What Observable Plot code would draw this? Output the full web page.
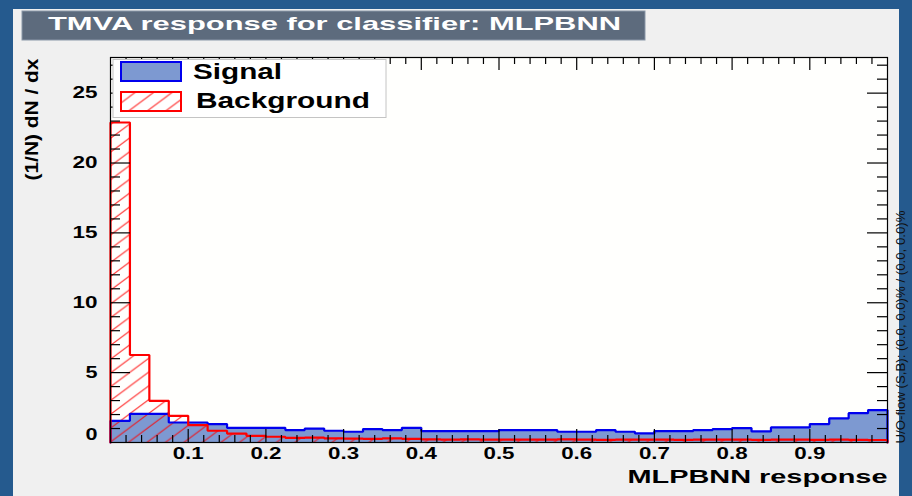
<!DOCTYPE html>
<html>
<head>
<meta charset="utf-8">
<script src="https://cdn.jsdelivr.net/npm/d3@7"></script>
<script src="https://cdn.jsdelivr.net/npm/@observablehq/plot@0.6"></script>
<style>
  html, body { margin: 0; padding: 0; }
  body { width: 912px; height: 496px; overflow: hidden; background: #255a8e; position: relative; }
  #canvas { position: absolute; left: 13px; top: 9px; width: 886px; height: 487px; background: #f0f0f0; }
  #chart { position: absolute; left: 0; top: 0; }
</style>
</head>
<body>
<div id="canvas"></div>
<div id="chart"></div>
<script>
// MLPBNN classifier response, normalised (1/N dN/dx), 40 bins over [0, 1]
const nBins = 40;
const signal = [
  1.55, 2.05, 2.05, 1.43, 1.43, 1.32, 1.05, 1.05, 1.05, 0.89,
  1.00, 0.84, 0.77, 0.96, 0.89, 1.05, 0.82, 0.82, 0.82, 0.82,
  0.89, 0.89, 0.89, 0.77, 0.77, 0.89, 0.77, 0.65, 0.82, 0.82,
  0.89, 0.96, 1.03, 0.79, 1.08, 1.08, 1.32, 1.72, 2.10, 2.32
];
const background = [
  22.9, 6.26, 2.98, 1.91, 1.24, 0.84, 0.64, 0.48, 0.41, 0.33,
  0.35, 0.30, 0.28, 0.26, 0.30, 0.26, 0.22, 0.20, 0.22, 0.20,
  0.20, 0.21, 0.20, 0.22, 0.20, 0.19, 0.21, 0.20, 0.20, 0.19,
  0.21, 0.20, 0.20, 0.19, 0.20, 0.21, 0.19, 0.20, 0.19, 0.18
];
const xTickLabels = [0.1, 0.2, 0.3, 0.4, 0.5, 0.6, 0.7, 0.8, 0.9];
const yTickLabels = [0, 5, 10, 15, 20, 25];
const titleText = "TMVA response for classifier: MLPBNN";
const xTitle = "MLPBNN response";
const yTitle = "(1/N) dN / dx";
const flowText = "U/O-flow (S,B): (0.0, 0.0)% / (0.0, 0.0)%";
const seriesNames = ["Signal", "Background"];

// step outlines: one point per bin low edge, closed at the upper edge
function stepPoints(values) {
  const pts = values.map((v, i) => ({x: i / nBins, y: v}));
  pts.push({x: 1, y: values[values.length - 1]});
  return pts;
}
function outline(values) {
  return [{x: 0, y: 0}, ...stepPoints(values), {x: 1, y: 0}];
}

const sigColor = "#0000ee", sigFill = "#7d99d1", bkgColor = "#ff0000";
const font = "'Liberation Sans', Arial, sans-serif";
const W = 912, H = 496;
const mL = 110, mR = 25, mT = 57, mB = 54;
const plotW = W - mL - mR, plotH = H - mT - mB;

// minor ticks every 0.02 in x and every 1 in y
const xMinor = d3.range(1, 50).map(i => i / 50).filter(v => Math.abs(v * 10 - Math.round(v * 10)) > 1e-6);
const xMajor = xTickLabels;
const yMinor = d3.range(1, 28).filter(v => v % 5 !== 0);
const yMajor = yTickLabels.filter(v => v > 0);

const tickStroke = {stroke: "black", strokeWidth: 1.2};
const bold = {fontFamily: font, fontWeight: "bold", fill: "black"};

const plot = Plot.plot({
  width: W, height: H,
  marginLeft: mL, marginRight: mR, marginTop: mT, marginBottom: mB,
  style: {background: "transparent", overflow: "visible"},
  x: {domain: [0, 1], axis: null},
  y: {domain: [0, 27.55], axis: null},
  marks: [
    Plot.frame({fill: "#fffffd", stroke: "none"}),
    Plot.areaY(stepPoints(signal), {x: "x", y: "y", curve: "step-after", fill: sigFill}),
    Plot.areaY(stepPoints(background), {x: "x", y: "y", curve: "step-after", fill: "url(#bkg-hatch)"}),
    Plot.line(outline(signal), {x: "x", y: "y", curve: "step-after", stroke: sigColor, strokeWidth: 2.2, strokeLinejoin: "miter"}),
    Plot.line(outline(background), {x: "x", y: "y", curve: "step-after", stroke: bkgColor, strokeWidth: 2.2, strokeLinejoin: "miter"}),
    // ticks drawn inward on all four sides
    Plot.ruleX(xMinor, {x: d => d, insetTop: plotH - 7, ...tickStroke}),
    Plot.ruleX(xMajor, {x: d => d, insetTop: plotH - 13, ...tickStroke}),
    Plot.ruleX(xMinor, {x: d => d, insetBottom: plotH - 7, ...tickStroke}),
    Plot.ruleX(xMajor, {x: d => d, insetBottom: plotH - 13, ...tickStroke}),
    Plot.ruleY(yMinor, {y: d => d, insetRight: plotW - 10, ...tickStroke}),
    Plot.ruleY(yMajor, {y: d => d, insetRight: plotW - 20, ...tickStroke}),
    Plot.ruleY(yMinor, {y: d => d, insetLeft: plotW - 10, ...tickStroke}),
    Plot.ruleY(yMajor, {y: d => d, insetLeft: plotW - 20, ...tickStroke}),
    Plot.frame({stroke: "black", strokeWidth: 1.2}),
    // tick labels
    Plot.text(xTickLabels, {x: d => d, frameAnchor: "bottom", dy: 16, text: d => d.toFixed(1), fontSize: 16, ...bold}),
    Plot.text(yTickLabels.filter(v => v > 0), {y: d => d, frameAnchor: "left", dx: -13, textAnchor: "end", text: d => String(d), fontSize: 16, ...bold}),
    Plot.text(yTickLabels.filter(v => v === 0), {y: d => d, frameAnchor: "left", dx: -13, dy: -8, textAnchor: "end", text: d => String(d), fontSize: 16, ...bold}),
    // axis titles
    Plot.text([xTitle], {frameAnchor: "bottom-right", dy: 40, textAnchor: "end", fontSize: 18.5, ...bold}),
    Plot.text([yTitle], {frameAnchor: "top-left", dx: -86, dy: 1, rotate: -90, textAnchor: "end", fontSize: 18.5, ...bold}),
    Plot.text([flowText], {frameAnchor: "bottom-right", dx: 17, dy: 1, rotate: -90, textAnchor: "start", fontSize: 12, fontFamily: font, fill: "#111"})
  ]
});

const svg = d3.select(plot);

// hatch used for the background histogram (and its legend swatch)
const pw = 18.5, ph = 13.8;
svg.insert("defs", ":first-child")
  .append("pattern")
  .attr("id", "bkg-hatch")
  .attr("patternUnits", "userSpaceOnUse")
  .attr("width", pw).attr("height", ph)
  .append("path")
  .attr("d", `M0,${ph}L${pw},0M${-pw / 4},${ph / 4}L${pw / 4},${-ph / 4}M${3 * pw / 4},${5 * ph / 4}L${5 * pw / 4},${3 * ph / 4}`)
  .attr("stroke", bkgColor).attr("stroke-width", 1.1).attr("stroke-opacity", 0.8).attr("fill", "none");

// title box
const tb = svg.append("g").attr("text-anchor", "start");
tb.append("rect").attr("x", 22).attr("y", 11).attr("width", 623).attr("height", 29)
  .attr("fill", "#5d6b7d").attr("stroke", "#8a97a8").attr("stroke-width", 1);
tb.append("text").attr("x", 48).attr("y", 29.5).attr("text-anchor", "start").text(titleText)
  .attr("fill", "white").attr("font-family", font).attr("font-weight", "bold").attr("font-size", 19);

// legend
const lg = svg.append("g").attr("text-anchor", "start");
lg.append("rect").attr("x", 113).attr("y", 59.5).attr("width", 273).attr("height", 58)
  .attr("fill", "white").attr("stroke", "#c4c4c4").attr("stroke-width", 1);
const swatches = [
  {y: 62, fill: sigFill, stroke: sigColor, base: 78.5},
  {y: 92, fill: "url(#bkg-hatch)", stroke: bkgColor, base: 108}
];
swatches.forEach((s, i) => {
  if (i === 1) lg.append("rect").attr("x", 121).attr("y", s.y).attr("width", 60).attr("height", 19).attr("fill", "white");
  lg.append("rect").attr("x", 121).attr("y", s.y).attr("width", 60).attr("height", 19)
    .attr("fill", s.fill).attr("stroke", s.stroke).attr("stroke-width", 2);
  lg.append("text").attr("x", i === 0 ? 193 : 196).attr("y", s.base).attr("text-anchor", "start").text(seriesNames[i])
    .attr("fill", "black").attr("font-family", font).attr("font-weight", "bold").attr("font-size", 22);
});

// the text in this figure is set wide; fix each string to its drawn width
const widths = {
  [titleText]: 573, [xTitle]: 260, [yTitle]: 122, [flowText]: 233,
  "Signal": 89, "Background": 174
};
svg.selectAll("text").each(function () {
  const t = this.textContent;
  let w = widths[t];
  if (w === undefined && /^\d\.\d$/.test(t)) w = 31;
  if (w === undefined && /^\d+$/.test(t)) w = t.length === 2 ? 25 : 12;
  if (w !== undefined) {
    this.setAttribute("textLength", w);
    this.setAttribute("lengthAdjust", "spacingAndGlyphs");
  }
});

document.getElementById("chart").appendChild(plot);
</script>
</body>
</html>
